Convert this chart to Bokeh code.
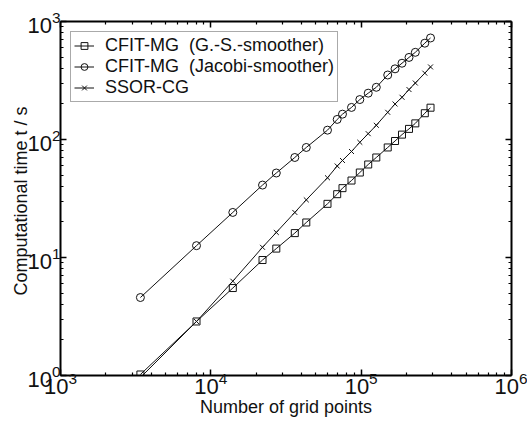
from bokeh.plotting import figure
from bokeh.models import (LogAxis, FixedTicker, Legend, LegendItem,
                          CustomJSTickFormatter, LogScale)
from bokeh.embed import file_html
from bokeh.resources import INLINE

# ---- data ----
grid_points = [3400, 8030, 14000, 22070, 27260, 36190, 43150, 59700, 69270, 75120,
               86250, 97950, 111400, 126100, 150200, 168000, 186900, 208100,
               229200, 265100, 289300]
gs_time = [1.02, 2.87, 5.51, 9.52, 11.9, 16.1, 19.8, 28.5, 34.4, 38.7, 44.9,
           52.5, 61.4, 70.4, 85.6, 97.1, 110, 123, 137, 167, 186]
jacobi_time = [4.58, 12.6, 24.1, 41.1, 52.0, 70.4, 85.6, 120, 148, 164, 187,
               218, 247, 277, 352, 397, 443, 496, 548, 655, 725]
ssor_time = [0.96, 2.87, 6.30, 12.2, 16.3, 24.1, 30.8, 47.4, 59.6, 66.4, 79.1,
             94.7, 112, 132, 170, 200, 228, 265, 301, 365, 412]

labels = ["CFIT-MG  (G.-S.-smoother)", "CFIT-MG  (Jacobi-smoother)", "SSOR-CG"]
x_major = [1e3, 1e4, 1e5, 1e6]
y_major = [1, 10, 100, 1000]

FONT = "Liberation Sans"
INK = "#111111"

x_minor = [k * m for m in x_major[:-1] for k in range(2, 10)]
y_minor = [k * m for m in y_major[:-1] for k in range(2, 10)]

p = figure(width=527, height=422, x_axis_type=None, y_axis_type=None,
           x_range=(1e3, 1e6), y_range=(1, 1e3),
           output_backend="svg", toolbar_location=None,
           min_border_left=60, min_border_right=16,
           min_border_top=21, min_border_bottom=47)
p.x_scale = LogScale()
p.y_scale = LogScale()
p.outline_line_color = None
p.background_fill_color = "white"
p.border_fill_color = "white"


def style_axis(ax, show_labels):
    ax.axis_line_width = 2
    ax.axis_line_color = "black"
    ax.major_tick_in = 6
    ax.major_tick_out = 0
    ax.minor_tick_in = 3
    ax.minor_tick_out = 0
    ax.major_tick_line_width = 1.5
    ax.minor_tick_line_width = 1.2
    ax.major_tick_line_color = "black"
    ax.minor_tick_line_color = "black"
    ax.major_label_text_font = FONT
    ax.major_label_text_font_size = "22px"
    ax.major_label_text_color = INK
    ax.axis_label_text_font = FONT
    ax.axis_label_text_font_size = "18px"
    ax.axis_label_text_font_style = "normal"
    ax.axis_label_text_color = INK
    if not show_labels:
        ax.formatter = CustomJSTickFormatter(code="return ''")
        ax.major_label_standoff = 0


xt = FixedTicker(ticks=x_major, minor_ticks=x_minor)
yt = FixedTicker(ticks=y_major, minor_ticks=y_minor)

bottom = LogAxis(ticker=xt, axis_label="Number of grid points")
left = LogAxis(ticker=yt, axis_label="Computational time  t / s")
top = LogAxis(ticker=xt)
right = LogAxis(ticker=yt)
style_axis(bottom, True)
style_axis(left, True)
style_axis(top, False)
style_axis(right, False)
bottom.major_label_standoff = -4
bottom.axis_label_standoff = 0
left.major_label_standoff = 0
left.axis_label_standoff = -7
p.add_layout(bottom, "below")
p.add_layout(left, "left")
p.add_layout(top, "above")
p.add_layout(right, "right")

items = []
series = [(gs_time, "square", 7), (jacobi_time, "circle", 8), (ssor_time, "x", 7)]
for (yy, marker, size), lab in zip(series, labels):
    ln = p.line(grid_points, yy, line_color=INK, line_width=1)
    sc = p.scatter(grid_points, yy, marker=marker, size=size,
                   line_color=INK, line_width=1, fill_color=None)
    items.append(LegendItem(label=lab, renderers=[ln, sc]))

legend = Legend(items=items, location="top_left", margin=10,
                label_text_font=FONT, label_text_font_size="18px",
                label_text_color=INK, label_height=17, glyph_height=17,
                glyph_width=20, label_standoff=11, spacing=0, padding=3,
                border_line_color="#555555", border_line_width=1,
                background_fill_color="white", background_fill_alpha=1)
p.add_layout(legend, "center")

open("out.html", "w").write(file_html(p, INLINE))
